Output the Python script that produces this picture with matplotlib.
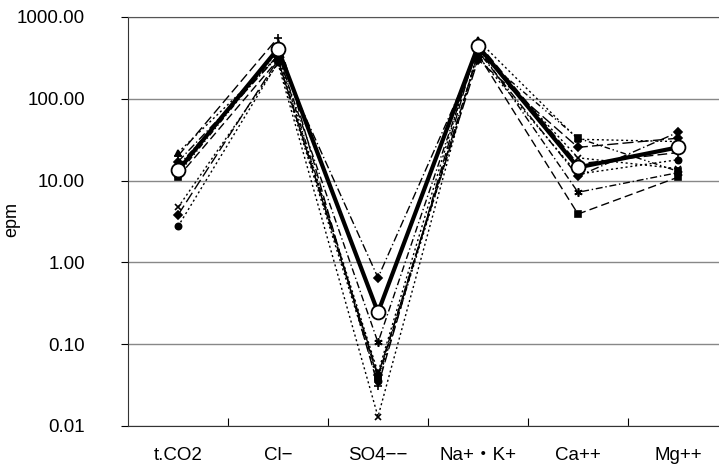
import matplotlib
matplotlib.use("Agg")
import matplotlib.pyplot as plt
import numpy as np

categories = ["t.CO2", "Cl\u2212", "SO4\u2212\u2212", "Na+\u30fbK+", "Ca++", "Mg++"]

s1 = [17, 330, 0.65, 380, 11.3, 39]
s2 = [11, 300, 0.040, 350, 3.9, 11]
s3 = [22, 330, 0.045, 520, 32, 30]
s4 = [4.7, 270, 0.013, 400, 19, 14]
s5 = [15, 340, 0.105, 420, 7.2, 12.5]
s6 = [2.75, 280, 0.035, 330, 12, 18]
s7 = [20, 560, 0.031, 480, 16, 22]
s8 = [3.8, 300, 0.042, 300, 25.5, 33]
s9 = [12, 380, 0.038, 360, 33, 13]
mean = [13.3, 410, 0.245, 440, 14.5, 25.5]

yticks = [0.01, 0.1, 1, 10, 100, 1000]
ytick_labels = ["0.01", "0.10", "1.00", "10.00", "100.00", "1000.00"]

plt.rcParams['font.family'] = ['Liberation Sans', 'Noto Sans CJK JP', 'DejaVu Sans']

fig = plt.figure(figsize=(7.19, 4.71), dpi=100)
ax = fig.add_axes([128/719, 45/471, 600/719, 409/471])

x = np.arange(len(categories))
styles = [
    (s1, 'D', (0, (6, 2, 1, 2)), 4),
    (s2, 's', (0, (6, 3)), 4.5),
    (s3, '^', (0, (1.5, 2)), 4.5),
    (s4, 'x', (0, (1.5, 2)), 5),
    (s5, (6, 2, 0), (0, (5, 2, 1, 2)), 6),
    (s6, 'o', (0, (1.5, 2)), 4.5),
    (s7, '+', (0, (7, 3)), 6),
    (s8, 'D', (0, (8, 3)), 4),
    (s9, 's', (0, (4, 2, 1, 2, 1, 2)), 4),
]
for data, mk, ls, ms in styles:
    ax.plot(x, data, color='black', linestyle=ls, linewidth=1.0,
            marker=mk, markersize=ms, markerfacecolor='black',
            markeredgecolor='black', markeredgewidth=1.2)

ax.plot(x, mean, color='black', linewidth=3, marker='o', markersize=10,
        markerfacecolor='white', markeredgecolor='black', markeredgewidth=1.3, zorder=5)

ax.set_yscale('log')
ax.set_ylim(0.01, 1000)
ax.set_xlim(-0.5, len(categories) - 0.5)
ax.set_yticks(yticks)
ax.set_yticklabels(ytick_labels, fontsize=13.5)
ax.yaxis.set_minor_locator(matplotlib.ticker.NullLocator())
ax.tick_params(axis='y', direction='out', length=5, width=0.8, pad=26)

ax.set_xticks(x)
ax.set_xticklabels(categories, fontsize=13.5)
ax.tick_params(axis='x', which='major', length=0, pad=15)
ax.set_xticks(np.arange(len(categories) - 1) + 0.5, minor=True)
ax.tick_params(axis='x', which='minor', direction='in', length=6, width=0.8)

ax.grid(axis='y', which='major', color='#888888', linewidth=1.0)
ax.set_axisbelow(True)
ax.spines['right'].set_visible(False)
ax.spines['top'].set_color('#555555')
ax.spines['left'].set_color('#333333')
ax.spines['bottom'].set_color('#333333')

ax.set_ylabel("epm", fontsize=13)
ax.yaxis.set_label_coords((20 - 128) / 600, 0.505)

fig.savefig("out.png", dpi=100)
